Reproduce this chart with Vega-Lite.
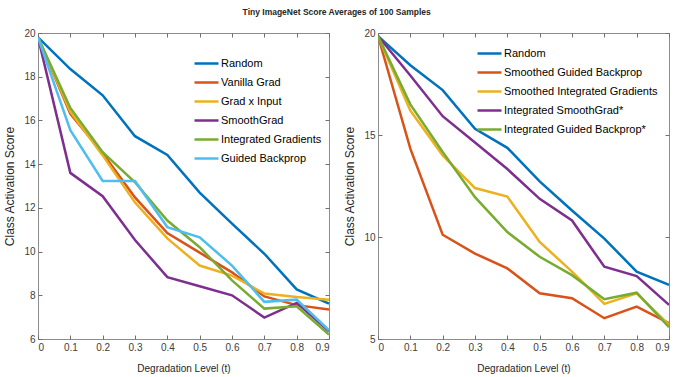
{
  "$schema": "https://vega.github.io/schema/vega-lite/v6.json",
  "padding": {"left": 3, "top": 8, "right": 0, "bottom": 0},
  "background": "white",
  "title": {"text": "Tiny ImageNet Score Averages of 100 Samples", "anchor": "middle", "fontSize": 8.5, "fontWeight": "bold", "font": "Liberation Sans, Arial", "color": "#262626", "offset": 11},
  "spacing": 13,
  "datasets": {
    "left": [
      {"method": "Random", "t": 0, "score": 19.8}, {"method": "Random", "t": 0.1, "score": 18.35}, {"method": "Random", "t": 0.2, "score": 17.15}, {"method": "Random", "t": 0.3, "score": 15.28}, {"method": "Random", "t": 0.4, "score": 14.42}, {"method": "Random", "t": 0.5, "score": 12.7}, {"method": "Random", "t": 0.6, "score": 11.28}, {"method": "Random", "t": 0.7, "score": 9.9}, {"method": "Random", "t": 0.8, "score": 8.27}, {"method": "Random", "t": 0.9, "score": 7.62},
      {"method": "Vanilla Grad", "t": 0, "score": 19.8}, {"method": "Vanilla Grad", "t": 0.1, "score": 16.3}, {"method": "Vanilla Grad", "t": 0.2, "score": 14.5}, {"method": "Vanilla Grad", "t": 0.3, "score": 12.48}, {"method": "Vanilla Grad", "t": 0.4, "score": 10.85}, {"method": "Vanilla Grad", "t": 0.5, "score": 9.95}, {"method": "Vanilla Grad", "t": 0.6, "score": 9.05}, {"method": "Vanilla Grad", "t": 0.7, "score": 7.95}, {"method": "Vanilla Grad", "t": 0.8, "score": 7.55}, {"method": "Vanilla Grad", "t": 0.9, "score": 7.35},
      {"method": "Grad x Input", "t": 0, "score": 19.8}, {"method": "Grad x Input", "t": 0.1, "score": 16.4}, {"method": "Grad x Input", "t": 0.2, "score": 14.4}, {"method": "Grad x Input", "t": 0.3, "score": 12.25}, {"method": "Grad x Input", "t": 0.4, "score": 10.6}, {"method": "Grad x Input", "t": 0.5, "score": 9.36}, {"method": "Grad x Input", "t": 0.6, "score": 8.9}, {"method": "Grad x Input", "t": 0.7, "score": 8.08}, {"method": "Grad x Input", "t": 0.8, "score": 7.92}, {"method": "Grad x Input", "t": 0.9, "score": 7.8},
      {"method": "SmoothGrad", "t": 0, "score": 19.8}, {"method": "SmoothGrad", "t": 0.1, "score": 13.6}, {"method": "SmoothGrad", "t": 0.2, "score": 12.53}, {"method": "SmoothGrad", "t": 0.3, "score": 10.53}, {"method": "SmoothGrad", "t": 0.4, "score": 8.83}, {"method": "SmoothGrad", "t": 0.5, "score": 8.41}, {"method": "SmoothGrad", "t": 0.6, "score": 8.0}, {"method": "SmoothGrad", "t": 0.7, "score": 6.98}, {"method": "SmoothGrad", "t": 0.8, "score": 7.65}, {"method": "SmoothGrad", "t": 0.9, "score": 6.35},
      {"method": "Integrated Gradients", "t": 0, "score": 19.8}, {"method": "Integrated Gradients", "t": 0.1, "score": 16.57}, {"method": "Integrated Gradients", "t": 0.2, "score": 14.55}, {"method": "Integrated Gradients", "t": 0.3, "score": 13.17}, {"method": "Integrated Gradients", "t": 0.4, "score": 11.42}, {"method": "Integrated Gradients", "t": 0.5, "score": 10.2}, {"method": "Integrated Gradients", "t": 0.6, "score": 8.68}, {"method": "Integrated Gradients", "t": 0.7, "score": 7.39}, {"method": "Integrated Gradients", "t": 0.8, "score": 7.5}, {"method": "Integrated Gradients", "t": 0.9, "score": 6.2},
      {"method": "Guided Backprop", "t": 0, "score": 19.8}, {"method": "Guided Backprop", "t": 0.1, "score": 15.55}, {"method": "Guided Backprop", "t": 0.2, "score": 13.23}, {"method": "Guided Backprop", "t": 0.3, "score": 13.23}, {"method": "Guided Backprop", "t": 0.4, "score": 11.12}, {"method": "Guided Backprop", "t": 0.5, "score": 10.65}, {"method": "Guided Backprop", "t": 0.6, "score": 9.36}, {"method": "Guided Backprop", "t": 0.7, "score": 7.7}, {"method": "Guided Backprop", "t": 0.8, "score": 7.8}, {"method": "Guided Backprop", "t": 0.9, "score": 6.4}
    ],
    "right": [
      {"method": "Random", "t": 0, "score": 19.85}, {"method": "Random", "t": 0.1, "score": 18.42}, {"method": "Random", "t": 0.2, "score": 17.2}, {"method": "Random", "t": 0.3, "score": 15.3}, {"method": "Random", "t": 0.4, "score": 14.37}, {"method": "Random", "t": 0.5, "score": 12.73}, {"method": "Random", "t": 0.6, "score": 11.3}, {"method": "Random", "t": 0.7, "score": 9.92}, {"method": "Random", "t": 0.8, "score": 8.3}, {"method": "Random", "t": 0.9, "score": 7.65},
      {"method": "Smoothed Guided Backprop", "t": 0, "score": 19.85}, {"method": "Smoothed Guided Backprop", "t": 0.1, "score": 14.33}, {"method": "Smoothed Guided Backprop", "t": 0.2, "score": 10.11}, {"method": "Smoothed Guided Backprop", "t": 0.3, "score": 9.19}, {"method": "Smoothed Guided Backprop", "t": 0.4, "score": 8.46}, {"method": "Smoothed Guided Backprop", "t": 0.5, "score": 7.24}, {"method": "Smoothed Guided Backprop", "t": 0.6, "score": 7.0}, {"method": "Smoothed Guided Backprop", "t": 0.7, "score": 6.02}, {"method": "Smoothed Guided Backprop", "t": 0.8, "score": 6.59}, {"method": "Smoothed Guided Backprop", "t": 0.9, "score": 5.78},
      {"method": "Smoothed Integrated Gradients", "t": 0, "score": 19.85}, {"method": "Smoothed Integrated Gradients", "t": 0.1, "score": 16.2}, {"method": "Smoothed Integrated Gradients", "t": 0.2, "score": 14.0}, {"method": "Smoothed Integrated Gradients", "t": 0.3, "score": 12.4}, {"method": "Smoothed Integrated Gradients", "t": 0.4, "score": 11.98}, {"method": "Smoothed Integrated Gradients", "t": 0.5, "score": 9.76}, {"method": "Smoothed Integrated Gradients", "t": 0.6, "score": 8.3}, {"method": "Smoothed Integrated Gradients", "t": 0.7, "score": 6.72}, {"method": "Smoothed Integrated Gradients", "t": 0.8, "score": 7.24}, {"method": "Smoothed Integrated Gradients", "t": 0.9, "score": 5.7},
      {"method": "Integrated SmoothGrad*", "t": 0, "score": 19.85}, {"method": "Integrated SmoothGrad*", "t": 0.1, "score": 17.92}, {"method": "Integrated SmoothGrad*", "t": 0.2, "score": 15.92}, {"method": "Integrated SmoothGrad*", "t": 0.3, "score": 14.63}, {"method": "Integrated SmoothGrad*", "t": 0.4, "score": 13.33}, {"method": "Integrated SmoothGrad*", "t": 0.5, "score": 11.87}, {"method": "Integrated SmoothGrad*", "t": 0.6, "score": 10.81}, {"method": "Integrated SmoothGrad*", "t": 0.7, "score": 8.54}, {"method": "Integrated SmoothGrad*", "t": 0.8, "score": 8.08}, {"method": "Integrated SmoothGrad*", "t": 0.9, "score": 6.67},
      {"method": "Integrated Guided Backprop*", "t": 0, "score": 19.85}, {"method": "Integrated Guided Backprop*", "t": 0.1, "score": 16.5}, {"method": "Integrated Guided Backprop*", "t": 0.2, "score": 14.17}, {"method": "Integrated Guided Backprop*", "t": 0.3, "score": 11.95}, {"method": "Integrated Guided Backprop*", "t": 0.4, "score": 10.24}, {"method": "Integrated Guided Backprop*", "t": 0.5, "score": 9.03}, {"method": "Integrated Guided Backprop*", "t": 0.6, "score": 8.13}, {"method": "Integrated Guided Backprop*", "t": 0.7, "score": 6.95}, {"method": "Integrated Guided Backprop*", "t": 0.8, "score": 7.27}, {"method": "Integrated Guided Backprop*", "t": 0.9, "score": 5.58}
    ]
  },
  "hconcat": [
    {
      "width": 291, "height": 306,
      "data": {"name": "left"},
      "layer": [
        {
          "mark": {"type": "line", "strokeWidth": 2.5, "clip": true},
          "encoding": {
            "x": {"field": "t", "type": "quantitative", "scale": {"domain": [0, 0.9], "nice": false}, "axis": {"title": "Degradation Level (t)", "values": [0, 0.1, 0.2, 0.3, 0.4, 0.5, 0.6, 0.7, 0.8, 0.9], "format": ".1~f"}},
            "y": {"field": "score", "type": "quantitative", "scale": {"domain": [6, 20], "nice": false, "zero": false}, "axis": {"title": "Class Activation Score", "values": [6, 8, 10, 12, 14, 16, 18, 20]}},
            "color": {"field": "method", "type": "nominal", "sort": null,
              "scale": {"domain": ["Random", "Vanilla Grad", "Grad x Input", "SmoothGrad", "Integrated Gradients", "Guided Backprop"], "range": ["#0072BD", "#D95319", "#EDB120", "#7E2F8E", "#77AC30", "#4DBEEE"]},
              "legend": {"title": null, "orient": "none", "legendX": 155, "legendY": 17}}
          }
        },
        {
          "mark": {"type": "line", "opacity": 0},
          "encoding": {
            "x": {"field": "t", "type": "quantitative", "axis": {"orient": "top", "labels": false, "title": null, "values": [0, 0.1, 0.2, 0.3, 0.4, 0.5, 0.6, 0.7, 0.8, 0.9]}},
            "y": {"field": "score", "type": "quantitative", "axis": {"orient": "right", "labels": false, "title": null, "values": [6, 8, 10, 12, 14, 16, 18, 20]}}
          }
        }
      ],
      "resolve": {"axis": {"x": "independent", "y": "independent"}}
    },
    {
      "width": 291, "height": 306,
      "data": {"name": "right"},
      "layer": [
        {
          "mark": {"type": "line", "strokeWidth": 2.5, "clip": true},
          "encoding": {
            "x": {"field": "t", "type": "quantitative", "scale": {"domain": [0, 0.9], "nice": false}, "axis": {"title": "Degradation Level (t)", "values": [0, 0.1, 0.2, 0.3, 0.4, 0.5, 0.6, 0.7, 0.8, 0.9], "format": ".1~f"}},
            "y": {"field": "score", "type": "quantitative", "scale": {"domain": [5, 20], "nice": false, "zero": false}, "axis": {"title": "Class Activation Score", "values": [5, 10, 15, 20]}},
            "color": {"field": "method", "type": "nominal", "sort": null,
              "scale": {"domain": ["Random", "Smoothed Guided Backprop", "Smoothed Integrated Gradients", "Integrated SmoothGrad*", "Integrated Guided Backprop*"], "range": ["#0072BD", "#D95319", "#EDB120", "#7E2F8E", "#77AC30"]},
              "legend": {"title": null, "orient": "none", "legendX": 98, "legendY": 7}}
          }
        },
        {
          "mark": {"type": "line", "opacity": 0},
          "encoding": {
            "x": {"field": "t", "type": "quantitative", "axis": {"orient": "top", "labels": false, "title": null, "values": [0, 0.1, 0.2, 0.3, 0.4, 0.5, 0.6, 0.7, 0.8, 0.9]}},
            "y": {"field": "score", "type": "quantitative", "axis": {"orient": "right", "labels": false, "title": null, "values": [5, 10, 15, 20]}}
          }
        }
      ],
      "resolve": {"axis": {"x": "independent", "y": "independent"}}
    }
  ],
  "resolve": {"scale": {"color": "independent"}, "legend": {"color": "independent"}},
  "config": {
    "view": {"stroke": "#8c8c8c", "strokeWidth": 1},
    "axis": {
      "grid": false,
      "domain": false,
      "tickSize": -4,
      "tickColor": "#707070",
      "labelPadding": 7,
      "labelFont": "Liberation Sans, Arial",
      "labelFontSize": 10,
      "labelColor": "#404040",
      "titleFont": "Liberation Sans, Arial",
      "titleFontSize": 10,
      "titleFontWeight": "normal",
      "titleColor": "#262626"
    },
    "axisY": {"titleFontSize": 12, "titlePadding": 7},
    "axisX": {"titlePadding": 11},
    "legend": {
      "symbolType": "stroke",
      "symbolSize": 576,
      "symbolStrokeWidth": 2.5,
      "labelFont": "Liberation Sans, Arial",
      "labelFontSize": 11,
      "labelColor": "#000000",
      "labelLimit": 0,
      "rowPadding": -5,
      "labelOffset": 1
    }
  }
}
